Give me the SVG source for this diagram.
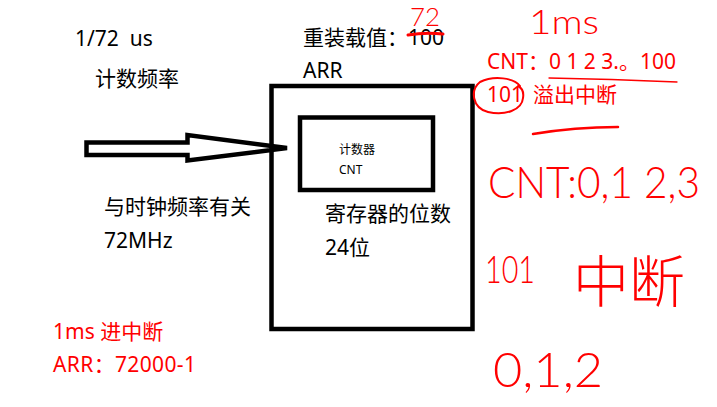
<svg xmlns="http://www.w3.org/2000/svg" width="717" height="407" viewBox="0 0 717 407">
<style>
  .t{font-family:"Noto Sans","Noto Sans CJK SC",sans-serif;font-size:21px;fill:#000}
  .r{fill:#ff0000}
  .s{font-size:12px}
  .box{fill:none;stroke:#000;stroke-width:4.5}
  .hw{font-family:"Lato","Noto Sans CJK SC",sans-serif;font-weight:300;fill:#ff0000}
  .ink{fill:none;stroke:#ff0000;stroke-linecap:round;stroke-linejoin:round}
</style>
<rect width="717" height="407" fill="#fff"/>
<g id="timer">
  <rect class="box" x="271.5" y="86" width="201" height="243"/>
  <text class="t" x="303" y="45">重装载值：100</text>
  <text class="t" x="303" y="78">ARR</text>
  <text class="t" x="325" y="221">寄存器的位数</text>
  <text class="t" x="325" y="255">24位</text>
</g>
<g id="cnt">
  <rect class="box" x="300" y="117.5" width="133" height="72.5"/>
  <text class="t s" x="339" y="154">计数器</text>
  <text class="t s" x="339" y="174">CNT</text>
</g>
<g id="connectors">
  <polygon class="box" points="86.5,142.5 187.5,142.5 187.5,135 287,148 187.5,160.5 187.5,155 86.5,155"/>
</g>
<g id="clock">
  <text class="t" x="75" y="46" xml:space="preserve">1/72  us</text>
  <text class="t" x="95" y="86">计数频率</text>
  <text class="t" x="104" y="214">与时钟频率有关</text>
  <text class="t" x="104" y="248">72MHz</text>
</g>
<g id="notes">
  <text class="t r" x="53" y="339">1ms 进中断</text>
  <text class="t r" x="53" y="372" textLength="143" lengthAdjust="spacing">ARR：72000-1</text>
  <text class="t r" x="487" y="69">CNT：0 1 2 3.。100</text>
  <text class="t r" x="487" y="102">101</text>
  <text class="t r" x="533" y="102">溢出中断</text>
</g>
<g id="handwriting">
  <path class="ink" stroke-width="3" d="M408,35 Q425,32 443,34"/>
  <text class="hw" x="410" y="26" font-size="25" textLength="30" lengthAdjust="spacingAndGlyphs">72</text>
  <text class="hw" x="529" y="34" font-size="34" textLength="70" lengthAdjust="spacingAndGlyphs">1ms</text>
  <path class="ink" stroke-width="1.3" d="M549,78 Q610,79 677,82"/>
  <path class="ink" stroke-width="2" d="M520,86 C514,78 494,75 480,82 C470,90 472,108 488,112 C505,116 522,110 523,98 C524,92 522,88 518,86"/>
  <path class="ink" stroke-width="2.5" d="M533,134 Q575,127 618,127"/>
  <text class="hw" x="488" y="198" font-size="44" textLength="212" lengthAdjust="spacingAndGlyphs">CNT:0,1 2,3</text>
  <text class="hw" x="485" y="283" font-size="37" textLength="50" lengthAdjust="spacingAndGlyphs">101</text>
  <text class="hw" x="573" y="302" font-size="56" textLength="112" lengthAdjust="spacingAndGlyphs">中断</text>
  <text class="hw" x="493" y="387" font-size="48" textLength="110" lengthAdjust="spacingAndGlyphs">0,1,2</text>
</g>
</svg>
